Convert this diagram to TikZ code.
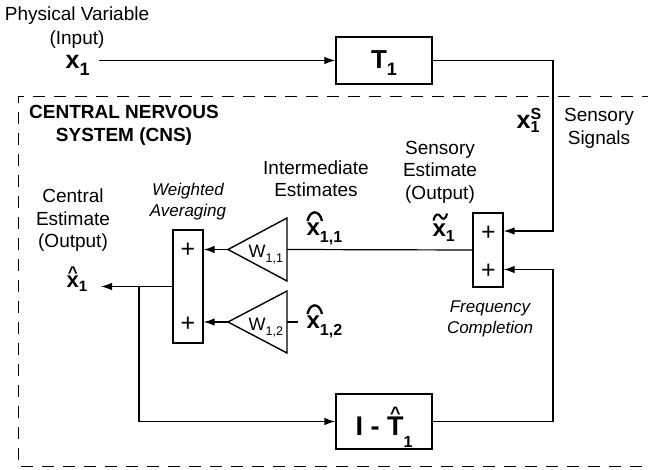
\documentclass[tikz,border=0pt]{standalone}
\usepackage{fontspec}
\setmainfont{Liberation Sans}
\usetikzlibrary{arrows.meta}
\newcommand\fs[1]{\fontsize{#1}{#1}\selectfont}
\newcommand\subx[3]{\raisebox{-#1}{\fs{#2}#3}}
\newcommand\accx[3]{\leavevmode\setbox0=\hbox{#3}\rlap{\hbox to\wd0{\hss\raisebox{#1}[0pt][0pt]{#2}\hss}}\box0}
\begin{document}
\begin{tikzpicture}[x=1pt,y=-1pt,line width=1.2pt,
  arr/.style={-{Latex[length=11pt,width=7.5pt]}},
  blk/.style={draw,line width=1.4pt,inner sep=0pt},
  txt/.style={inner sep=0pt,align=center,anchor=north},
  var/.style={inner sep=0pt,anchor=base west},
  plus/.style={inner sep=0pt,font=\fs{25}},
  gain/.style={line width=1.4pt,line join=miter},
  hatl/.style={line width=2.3pt},
  cns/.style={dash pattern=on 12pt off 9pt,dash phase=6pt,line width=1pt}]
\useasboundingbox (0,0) rectangle (648,470);

% CNS boundary
\draw[cns] (648,97) -- (18,97) -- (18,466) -- (648,466);

% blocks
\node[blk,minimum width=96pt,minimum height=47pt,text height=19pt,text depth=2pt] (t1) at (384,60.5)
  {\fs{26}\bfseries T\subx{7pt}{18}{1}};
\node[blk,minimum width=96pt,minimum height=55pt,text height=28pt,text depth=1pt] (it) at (384,421.5)
  {\fs{27}\bfseries I - \accx{16pt}{\fs{18}\textasciicircum}{T}\subx{12pt}{16}{1}};
\node[blk,minimum width=30pt,minimum height=113pt] (sumL) at (188,286.5) {};
\node[blk,minimum width=30pt,minimum height=74pt] (sumR) at (488,250) {};
\node[plus] (pL1) at (188,250.5) {+};
\node[plus] (pL2) at (188,324) {+};
\node[plus] (pR1) at (488.5,233) {+};
\node[plus] (pR2) at (488.5,271.5) {+};

% gains
\coordinate (g1) at (228,249.5);
\coordinate (g1b) at (287,249.5);
\draw[gain] (g1) -- (287,218) -- (287,281) -- cycle;
\coordinate (g2) at (228,322);
\coordinate (g2b) at (287,322);
\draw[gain] (g2) -- (287,291) -- (287,353) -- cycle;
\node[var] (w1) at (248,258) {\fs{18}W\subx{5pt}{12.5}{1,1}};
\node[var] (w2) at (248,330.5) {\fs{18}W\subx{5pt}{12.5}{1,2}};

% variables
\node[var] (xin) at (65,69) {\fs{25}\bfseries x\subx{7pt}{18}{1}};
\node[var] (xs) at (516,129) {\fs{25}\bfseries x\rlap{\raisebox{9.5pt}{\fs{16}S}}\subx{4pt}{16}{1}};
\node[var] (xh11) at (306,236) {\fs{24}\bfseries x\subx{7pt}{16}{1,1}};
\draw[hatl] (307.5,221) .. controls (310,209.5) and (319.5,209.5) .. (322,221);
\node[var] (xh12) at (306,329) {\fs{24}\bfseries x\subx{7pt}{16}{1,2}};
\draw[hatl] (307.5,314) .. controls (310,302.5) and (319.5,302.5) .. (322,314);
\node[var] (xt) at (432,237) {\fs{24}\bfseries x\subx{5pt}{16}{1}};
\draw[line width=2.1pt] (433.5,220.5) .. controls (435,213.5) and (438.5,213) .. (440.5,216.5)
  .. controls (442.5,220) and (445.5,220) .. (447,213.5);
\node[var] (xo) at (66,288) {\fs{22}\bfseries\accx{9pt}{\fs{17}\textasciicircum}{x}\subx{4pt}{15}{1}};

% texts
\node[txt,font=\fontsize{19}{24.5}\selectfont] (pv) at (77,5.8) {Physical Variable\\(Input)};
\node[txt,font=\fontsize{19}{23}\selectfont\bfseries] (cnsl) at (124,104.2) {CENTRAL NERVOUS\\SYSTEM (CNS)};
\node[txt,font=\fontsize{19}{23}\selectfont] (ss) at (599,107.2) {Sensory\\Signals};
\node[txt,font=\fontsize{19}{22.5}\selectfont] (se) at (440,140.2) {Sensory\\Estimate\\(Output)};
\node[txt,font=\fontsize{19}{22}\selectfont] (ie) at (316,160.4) {Intermediate\\Estimates};
\node[txt,font=\fontsize{19}{22.5}\selectfont] (ce) at (73,188.2) {Central\\Estimate\\(Output)};
\node[txt,font=\fontsize{17}{21}\selectfont\itshape] (wa) at (188,182.8) {Weighted\\Averaging};
\node[txt,font=\fontsize{17}{21}\selectfont\itshape] (fc) at (490,299.8) {Frequency\\Completion};

% connectors
\coordinate (inS) at (99,60.5);
\draw[arr] (inS) -- (t1.west);
\coordinate (cR1) at (553,231);
\draw[arr] (t1.east) -| (cR1) -- (sumR.east |- cR1);
\coordinate (cR2) at (553,269.5);
\draw[arr] (it.east) -| (cR2) -- (sumR.east |- cR2);
\draw (sumR.west) -- (g1b);
\draw[arr] (g1) -- (sumL.east |- g1);
\draw[arr] (g2) -- (sumL.east |- g2);
\coordinate (x12s) at (298,322);
\draw (g2b) -- (x12s);
\coordinate (outtip) at (101,286.5);
\draw[arr] (sumL.west) -- (outtip);
\coordinate (br) at (139,286.5);
\draw[arr] (br) |- (it.west);
\end{tikzpicture}
\end{document}
